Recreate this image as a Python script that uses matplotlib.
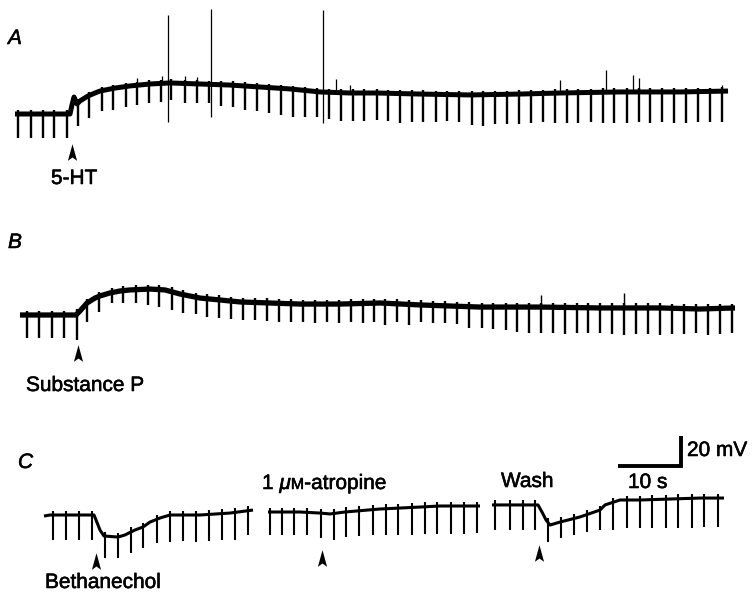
import numpy as np
import matplotlib
matplotlib.use("Agg")
import matplotlib.pyplot as plt
from matplotlib.path import Path
import matplotlib.patheffects as pe

# ------------------------------------------------------------------
# DATA  (time in s, membrane potential in mV relative to each record's
#        resting level before drug application)
# ------------------------------------------------------------------
# Record A : 5-HT
a_base_t = [2.38, 11.11, 11.43, 11.75, 12.22, 12.70, 13.97, 15.08, 15.87, 18.25,
            20.63, 23.81, 26.98, 31.75, 36.51, 41.27, 46.03, 50.79, 55.56, 59.84,
            66.67, 74.60, 82.54, 88.89, 98.41, 107.94, 115.56]
a_base_v = [0, 0, 6, 11.3, 6.7, 8.7, 12, 14, 15.3, 17.3,
            18.7, 20, 20.7, 20, 19.3, 18, 16.7, 14.7, 14, 14,
            13.3, 12.7, 13.3, 14, 14.7, 14.7, 15.3]
a_pulse_t = [2.86, 4.92, 6.83, 8.57, 10.63, 12.38, 14.13, 16.19, 17.94, 20.00,
             21.75, 23.65, 25.56, 27.14, 29.37, 31.27, 33.17, 35.08, 36.98, 38.89,
             40.79, 42.70, 44.60, 46.51, 48.41, 50.32, 52.22, 54.13, 56.03, 57.78,
             59.84, 61.59, 63.49, 65.40, 67.14, 69.21, 70.95, 72.86, 74.92, 76.67,
             78.57, 80.48, 82.38, 84.29, 86.19, 88.10, 90.00, 91.75, 93.81, 95.71,
             97.46, 99.52, 101.43, 103.17, 105.08, 106.98, 108.89, 110.79, 112.70, 114.60]
a_pulse_min = [-16, -16, -16, -16, -16, -8, -2.7, 2, 2.7, 4.7,
               6, 7.3, 8, 9.3, 7.3, 7.3, 7.3, 5.3, 4.7, 2.7,
               2, 0.7, -0.7, -2, -2, -2, -3.3, -4.7, -4.7, -4.7,
               -4, -4.7, -6, -5.3, -5.3, -5.3, -4.7, -5.3, -7.3, -8,
               -6.7, -6.7, -6.7, -6, -5.3, -6, -6, -6, -5.3, -6,
               -6, -6, -5.3, -6, -5.3, -6, -6, -5.3, -5.3, -5.3]
# action potentials (time, peak, trough)
a_ap_t = [26.67, 33.49, 51.27]
a_ap_top = [66, 70, 69.3]
a_ap_bottom = [-5.3, -2, -6]
# small spontaneous depolarisations (time, peak)
a_small_t = [21.75, 25.71, 29.37, 31.27, 53.33, 55.56, 88.89, 96.19, 100.48, 101.43, 114.60]
a_small_top = [24, 25.3, 25.3, 24.7, 23.3, 19.3, 22.7, 29.3, 26, 24, 19.3]

# Record B : Substance P
b_base_t = [3.17, 12.06, 12.70, 13.81, 15.08, 15.87, 17.46, 19.05, 20.63, 23.81,
            26.19, 28.57, 31.75, 34.92, 38.10, 42.86, 47.62, 53.97, 60.32, 66.67,
            76.19, 85.71, 95.24, 104.76, 111.11, 116.67]
b_base_v = [0, 0, 2.7, 8, 11.3, 12.7, 14.7, 16, 16.7, 17.3,
            16.7, 14, 11.3, 10, 8.7, 8, 7.3, 7.3, 8, 6.7,
            5.3, 5.3, 4.7, 4.7, 4, 4.7]
b_pulse_t = [4.29, 6.19, 8.25, 10.16, 12.22, 13.81, 15.71, 17.78, 19.52, 21.59,
             23.49, 25.24, 27.30, 29.05, 31.11, 32.86, 34.76, 36.67, 38.57, 40.48,
             42.38, 44.29, 46.19, 48.10, 50.00, 51.90, 53.81, 55.71, 57.62, 59.37,
             61.11, 63.02, 64.92, 66.83, 68.73, 70.63, 72.54, 74.44, 76.51, 78.25,
             80.32, 82.06, 83.97, 85.87, 87.78, 89.68, 91.59, 93.33, 95.24, 97.14,
             99.05, 100.95, 102.86, 104.76, 106.67, 108.57, 110.48, 112.38, 114.29, 116.19]
b_pulse_min = [-15.3, -15.3, -15.3, -15.3, -16.7, -4.7, 2, 8, 8, 8,
               6.7, 5.3, 3.3, 1.3, 0.7, -1.3, -2, -2.7, -3.3, -3.3,
               -4, -4.7, -4.7, -4.7, -5.3, -4.7, -5.3, -4.7, -5.3, -4.7,
               -6.7, -4.7, -6.7, -4.7, -5.3, -5.3, -6, -8.7, -8.7, -9.3,
               -10, -11.3, -12, -12, -12, -12.7, -12, -12, -12, -12.7,
               -13.3, -12.7, -12.7, -13.3, -12.7, -12.7, -12, -13.3, -12.7, -12]
b_small_t = [85.87, 99.05]
b_small_top = [13.3, 14.7]

# Record C : bethanechol, bethanechol in 1 uM atropine, after wash
c1_base_t = [6.98, 7.94, 14.92, 15.24, 15.87, 16.51, 18.73, 19.84, 21.43, 22.70,
             23.81, 25.40, 26.98, 31.75, 36.51, 40.16]
c1_base_v = [-0.7, 0, 0, -3.3, -10, -14, -14.7, -13.3, -10, -8,
             -4.7, -2, 0, 0, 1.3, 3.3]
c1_pulse_t = [8.41, 10.48, 12.54, 14.60, 16.67, 18.73, 20.79, 22.70, 24.92, 26.98,
              29.05, 31.11, 33.17, 35.24, 37.30, 39.37]
c1_pulse_min = [-16.7, -16.7, -16.7, -16.7, -28.7, -28.7, -25.3, -22, -18.7, -18,
                -17.3, -18, -17.3, -16.7, -16.7, -13.3]

c2_base_t = [42.54, 47.62, 50.79, 52.38, 54.76, 60.32, 66.67, 69.84, 76.19]
c2_base_v = [2, 2, 1.3, 0.7, 2, 4, 5.3, 6, 6]
c2_pulse_t = [42.86, 44.76, 46.67, 48.73, 50.95, 53.02, 54.92, 56.98, 59.21, 61.27,
              63.17, 65.40, 67.46, 69.37, 71.59, 73.65, 75.71]
c2_pulse_min = [-13.3, -13.3, -13.3, -13.3, -15.3, -16.7, -14.7, -14, -13.3, -13.3,
                -13.3, -13.3, -12.7, -12.7, -12.7, -12.7, -12]

c3_base_t = [78.10, 85.40, 86.03, 86.67, 87.30, 88.89, 92.06, 95.24, 96.03, 98.41,
             101.59, 111.11, 114.92]
c3_base_v = [6.7, 6.7, 2, -3.3, -6.7, -4.7, -1.3, 3.3, 6.7, 10,
             10, 11.3, 11.3]
c3_pulse_t = [78.57, 80.95, 83.02, 84.92, 86.98, 89.05, 91.11, 93.17, 95.24, 97.30,
              99.52, 101.59, 103.49, 105.71, 107.62, 109.84, 111.75, 113.97]
c3_pulse_min = [-10, -10, -10, -10, -18, -15.3, -13.3, -11.3, -10, -10,
                -8.7, -8.7, -8.7, -8.7, -8.7, -8.7, -8, -8]

# drug application times (s)
drug_labels = ["5-HT", "Substance P", "Bethanechol", "", ""]
drug_times = [11.43, 12.38, 15.24, 51.11, 85.56]

scale_t = 10   # s
scale_v = 20   # mV

# ------------------------------------------------------------------
# LAYOUT / STYLE
# ------------------------------------------------------------------
W, H = 752, 598
PX_S, PX_MV = 6.3, 1.5
FONT = "Liberation Sans"
FS = 15
BOLDEN = [pe.withStroke(linewidth=0.4, foreground="k")]

fig = plt.figure(figsize=(W / 100, H / 100), dpi=100)
ax = fig.add_axes([0, 0, 1, 1])
ax.set_xlim(0, W / PX_S)
ax.set_ylim(-H / PX_MV, 0)
ax.axis("off")

off_a = -114 / PX_MV
off_b = -315 / PX_MV
off_c = -515 / PX_MV


def record(bt, bv, pt, pmin, off, lw_base, lw_pulse, over):
    bt = np.asarray(bt); bv = np.asarray(bv)
    ax.plot(bt, bv + off, color="k", lw=lw_base, solid_joinstyle="round",
            solid_capstyle="butt")
    top = np.interp(pt, bt, bv) + over
    ax.vlines(pt, np.asarray(pmin) + off, top + off, color="k", lw=lw_pulse)


record(a_base_t, a_base_v, a_pulse_t, a_pulse_min, off_a, 3.6, 1.7, 2.5)
ax.vlines(a_ap_t, np.asarray(a_ap_bottom) + off_a, np.asarray(a_ap_top) + off_a,
          color="k", lw=0.9)
ax.vlines(a_small_t, np.interp(a_small_t, a_base_t, a_base_v) + off_a,
          np.asarray(a_small_top) + off_a, color="k", lw=0.9)

record(b_base_t, b_base_v, b_pulse_t, b_pulse_min, off_b, 3.8, 1.7, 3.0)
ax.vlines(b_small_t, np.interp(b_small_t, b_base_t, b_base_v) + off_b,
          np.asarray(b_small_top) + off_b, color="k", lw=1.0)

record(c1_base_t, c1_base_v, c1_pulse_t, c1_pulse_min, off_c, 2.2, 1.5, 3.0)
record(c2_base_t, c2_base_v, c2_pulse_t, c2_pulse_min, off_c, 2.2, 1.5, 3.0)
record(c3_base_t, c3_base_v, c3_pulse_t, c3_pulse_min, off_c, 2.2, 1.5, 3.0)

# arrowheads marking drug application
arrow = Path([(0, 1), (0.55, -1), (0, -0.6), (-0.55, -1), (0, 1)],
             [Path.MOVETO, Path.LINETO, Path.LINETO, Path.LINETO, Path.CLOSEPOLY])
arrow_y = [off_a - 38 / PX_MV, off_b - 38 / PX_MV, off_c - 46 / PX_MV,
           off_c - 43 / PX_MV, off_c - 38 / PX_MV]
ax.plot(drug_times, arrow_y, linestyle="none", marker=arrow, markersize=12,
        color="k", markeredgewidth=0)

# scale bar
sb_t0 = 618 / PX_S
sb_y0 = -466 / PX_MV
ax.plot([sb_t0, sb_t0 + scale_t, sb_t0 + scale_t],
        [sb_y0, sb_y0, sb_y0 + scale_v], color="k", lw=2.8,
        solid_joinstyle="miter", solid_capstyle="butt")


def ftext(x, y, s, **kw):
    kw.setdefault("fontsize", FS)
    kw.setdefault("family", FONT)
    return fig.text(x / W, 1 - y / H, s, ha="left", va="baseline",
                    path_effects=BOLDEN, **kw)


ftext(8, 44, "A", style="italic")
ftext(8, 248, "B", style="italic")
ftext(18, 468, "C", style="italic")

ftext(51, 184, drug_labels[0])
ftext(26, 391, drug_labels[1])
ftext(45, 588, drug_labels[2])
ftext(501, 487, "Wash")
ftext(628, 488, f"{scale_t} s")
ftext(687, 456, f"{scale_v} mV")

# "1 μM-atropine" with italic mu and small-capital M
renderer = fig.canvas.get_renderer()
x = 262
pieces = [("1", {}), (None, 5.8), ("μ", {"style": "italic"}),
          ("M", {"fontsize": 11.5}), ("-atropine", {})]
for s, kw in pieces:
    if s is None:
        x += kw
        continue
    t = ftext(x, 489, s, **kw)
    bb = t.get_window_extent(renderer)
    x = bb.x1

fig.savefig("out.png", dpi=100, facecolor="white")
